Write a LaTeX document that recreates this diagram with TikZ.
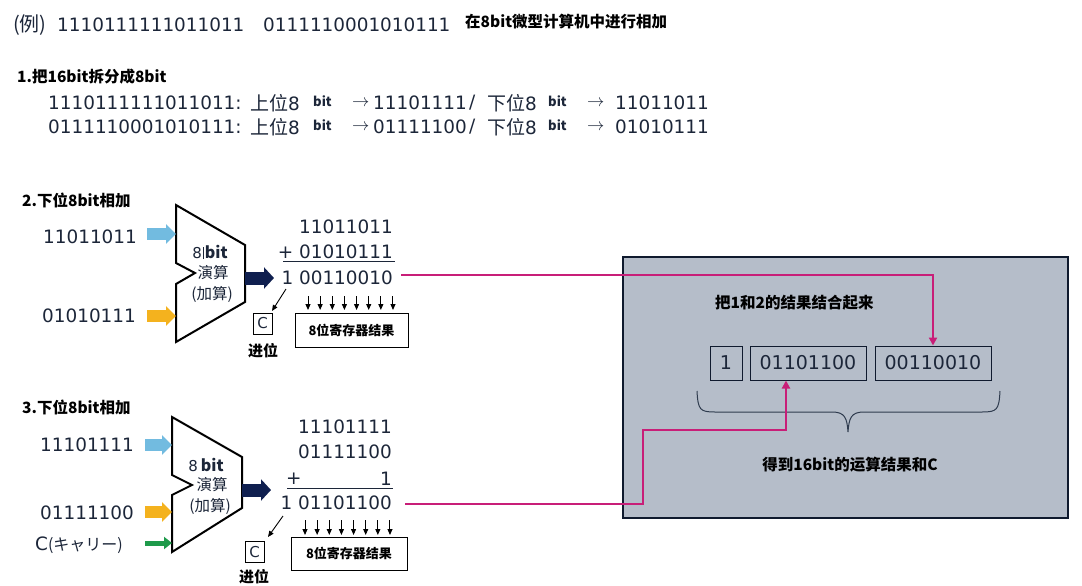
\documentclass[tikz,border=0pt]{standalone}
\usepackage{fontspec}
\setmainfont{DejaVu Sans}
\newfontfamily\cjk{Noto Sans CJK SC}
\usetikzlibrary{arrows.meta,calc}
\definecolor{numc}{HTML}{1C2639}
\definecolor{pinkc}{HTML}{C81E78}
\definecolor{panel}{HTML}{B5BDC9}
\definecolor{paneledge}{HTML}{0F1A2E}
\definecolor{bluea}{HTML}{72BBE0}
\definecolor{orangea}{HTML}{F4B21E}
\definecolor{greena}{HTML}{1E9A4A}
\definecolor{navya}{HTML}{0F1F4F}
\definecolor{bracec}{HTML}{2E3B4E}
\tikzset{
  num/.style={font=\fontsize{18.4}{20}\selectfont, text=numc, inner sep=0pt},
  lite/.style={font=\cjk\fontsize{19}{20}\selectfont, text=numc, inner sep=0pt},
  hd/.style={font=\cjk\bfseries\fontsize{15.5}{17}\selectfont, inner sep=0pt, anchor=west},
  tinybit/.style={font=\cjk\bfseries\fontsize{13}{14}\selectfont, inner sep=0pt, anchor=west, text=numc},
  alutxt/.style={font=\cjk\fontsize{15.5}{16}\selectfont, inner sep=0pt, text=numc},
  alu/.style={draw=black, line width=2pt, fill=white, line join=miter},
  inarrow/.style={line width=12pt, -{Triangle[length=10pt,width=19pt]}},
  outarrow/.style={navya, line width=13pt, -{Triangle[length=10pt,width=21pt]}},
  carryin/.style={greena, line width=5pt, -{Triangle[length=8pt,width=12pt]}},
  down/.style={line width=1pt, -{Triangle[length=6pt,width=5pt]}},
  thinarrow/.style={line width=0.9pt, -{Triangle[length=6pt,width=5pt]}},
  regbox/.style={draw=black, line width=1pt, inner sep=0pt, font=\cjk\bfseries\fontsize{13}{14}\selectfont},
  cbox/.style={draw=black, line width=0.8pt, minimum width=19pt, minimum height=21pt, inner sep=0pt, font=\fontsize{15}{15}\selectfont, text=numc},
  link/.style={pinkc, line width=2pt, -{Triangle[length=8pt,width=8pt]}},
  seg/.style={draw=paneledge, line width=1pt, inner sep=0pt, minimum height=34pt, font=\fontsize{19}{20}\selectfont, text=numc},
}
\begin{document}
\begin{tikzpicture}[x=1pt,y=-1pt]
\fill[white] (0,0) rectangle (1082,586);
\useasboundingbox (0,0) rectangle (1082,586);

% ---- top line
\node[font=\cjk\fontsize{20}{20}\selectfont, text=numc, inner sep=0pt, anchor=west] (ex) at (13,25) {(例)};
\node[num, anchor=west] (n16a) at (57,25) {1110111111011011};
\node[num, anchor=west] (n16b) at (263,25) {0111110001010111};
\node[hd] (t0) at (465,22) {在8bit微型计算机中进行相加};

% ---- step 1
\node[hd] (t1) at (17,77) {1.把16bit拆分成8bit};
\foreach \yy/\full/\hi/\lo/\nm in {103/1110111111011011/11101111/11011011/a, 127/0111110001010111/01111100/01010111/b}{
  \node[num, anchor=west] (f\nm) at (48,\yy) {\full:};
  \node[lite, anchor=west] (u\nm) at (250,\yy) {上位\fontspec{DejaVu Sans}\fontsize{18.4}{20}\selectfont 8};
  \node[tinybit] (ba\nm) at (313,\yy-2) {bit};
  \node[num, anchor=west] (ra\nm) at (352,\yy) {$\rightarrow$};
  \node[num, anchor=west] (h\nm) at (373,\yy) {\hi};
  \node[num, anchor=west] (s\nm) at (469,\yy) {/};
  \node[lite, anchor=west] (d\nm) at (487,\yy) {下位\fontspec{DejaVu Sans}\fontsize{18.4}{20}\selectfont 8};
  \node[tinybit] (bb\nm) at (548,\yy-2) {bit};
  \node[num, anchor=west] (rb\nm) at (587,\yy) {$\rightarrow$};
  \node[num, anchor=west] (l\nm) at (615,\yy) {\lo};
}

% ---- step 2
\node[hd] (t2) at (22,200) {2.下位8bit相加};
\node[num, anchor=west] (in1a) at (43,237) {11011011};
\node[num, anchor=west] (in1b) at (42,316) {01010111};
\draw[alu] (176,205) coordinate (A1tl) -- (245,245) -- (245,302) -- (176,342) -- (176,284) -- (195,273) -- (176,263) -- cycle;
\coordinate (A1in1) at (176,234);
\coordinate (A1in2) at (176,316);
\coordinate (A1out) at (245,278);
\node[alutxt] (a1t1) at (210,252) {\fontspec{DejaVu Sans}\fontsize{15}{16}\selectfont 8\hspace{1pt}\rule[-1pt]{0.6pt}{12pt}\hspace{1.5pt}{\cjk\bfseries\fontsize{16}{16}\selectfont bit}};
\node[alutxt] (a1t2) at (213,273) {演算};
\node[alutxt] (a1t3) at (212,294) {(加算)};
\coordinate (i1a) at (147,234);
\coordinate (i1b) at (147,316);
\draw[inarrow, bluea] (i1a) -- (A1in1);
\draw[inarrow, orangea] (i1b) -- (A1in2);
\coordinate (o1) at (274,278);
\draw[outarrow] (A1out) -- (o1);

\node[num, anchor=east] (s1a) at (393,227) {11011011};
\node[num, anchor=east] (s1b) at (393,252) {+ 01010111};
\draw[line width=1pt, numc] (283,261) coordinate (u1l) -- (395,261) coordinate (u1r);
\node[num, anchor=east] (s1c) at (393,278) {1 00110010};
\foreach \i in {0,...,7}{
  \draw[down] (308+\i*12.14,296) -- (308+\i*12.14,310);
}
\node[regbox, minimum width=113pt, minimum height=34pt] (r1) at (351.5,330) {8位寄存器结果};
\node[cbox] (c1) at (262.5,323.5) {C};
\node[font=\cjk\bfseries\fontsize{15}{16}\selectfont, inner sep=0pt] (k1) at (263,351) {进位};
\coordinate (cs1) at (286,289);
\draw[thinarrow] (cs1) -- (272,311);

% ---- step 3
\node[hd] (t3) at (22,407) {3.下位8bit相加};
\node[num, anchor=west] (in2a) at (40,445) {11101111};
\node[num, anchor=west] (in2b) at (40,513) {01111100};
\node[anchor=west, inner sep=0pt, text=numc] (in2c) at (35,545) {\fontsize{18.4}{20}\selectfont C\cjk\fontsize{16}{17}\selectfont (キャリー)};
\draw[alu] (172,417) -- (242,457) -- (242,508) -- (172,552) -- (172,495) -- (192,485) -- (172,475) -- cycle;
\coordinate (A2in1) at (172,445);
\coordinate (A2in2) at (172,512);
\coordinate (A2in3) at (172,543);
\coordinate (A2out) at (242,490);
\node[alutxt] (a2t1) at (206,465) {\fontspec{DejaVu Sans}\fontsize{15}{16}\selectfont 8\hspace{3pt}{\cjk\bfseries\fontsize{16}{16}\selectfont bit}};
\node[alutxt] (a2t2) at (212,485) {演算};
\node[alutxt] (a2t3) at (210,506) {(加算)};
\coordinate (i2a) at (145,445);
\coordinate (i2b) at (145,512);
\coordinate (i2c) at (145,543);
\draw[inarrow, bluea] (i2a) -- (A2in1);
\draw[inarrow, orangea] (i2b) -- (A2in2);
\draw[carryin] (i2c) -- (A2in3);
\coordinate (o2) at (271,490);
\draw[outarrow] (A2out) -- (o2);

\node[num, anchor=east] (s2a) at (392,427) {11101111};
\node[num, anchor=east] (s2b) at (392,452) {01111100};
\node[num, anchor=west] (s2p) at (286,479) {+};
\node[num, anchor=east] (s2c) at (392,479) {1};
\draw[line width=1pt, numc] (287,488) coordinate (u2l) -- (393,488) coordinate (u2r);
\node[num, anchor=east] (s2d) at (392,503) {1 01101100};
\foreach \i in {0,...,7}{
  \draw[down] (305+\i*12.14,520) -- (305+\i*12.14,535);
}
\node[regbox, minimum width=116pt, minimum height=33pt] (r2) at (349,553.5) {8位寄存器结果};
\node[cbox] (c2) at (254.5,552) {C};
\node[font=\cjk\bfseries\fontsize{15}{16}\selectfont, inner sep=0pt] (k2) at (254,577) {进位};
\coordinate (cs2) at (283,516);
\draw[thinarrow] (cs2) -- (268,537);

% ---- panel
\draw[fill=panel, draw=paneledge, line width=2.5pt] (623,257) rectangle (1068,518);
\node[hd] (p1) at (715,303) {把1和2的结果结合起来};
\node[seg, minimum width=32pt] (b1) at (726,363) {1};
\node[seg, minimum width=116pt] (b2) at (808,363) {01101100};
\node[seg, minimum width=116pt] (b3) at (933,363) {00110010};
\draw[bracec, line width=1pt] (697,391) .. controls (698,410) and (700,412) .. (715,412) -- (832,412) .. controls (845,412) and (847,418) .. (848,432) .. controls (849,418) and (851,412) .. (864,412) -- (982,412) .. controls (997,412) and (999,410) .. (1000,391);
\node[font=\cjk\bfseries\fontsize{15.5}{17}\selectfont, inner sep=0pt] (p2) at (850,465) {得到16bit的运算结果和C};

% ---- links
\coordinate (L1s) at (401,275);
\coordinate (L2s) at (405,504);
\draw[link] (L1s) -- (b3.north |- L1s) -- (b3.north);
\draw[link] (L2s) -- (643,504) -- (643,430) -- (786,430) -- (786,430 |- b2.south);
\end{tikzpicture}
\end{document}
